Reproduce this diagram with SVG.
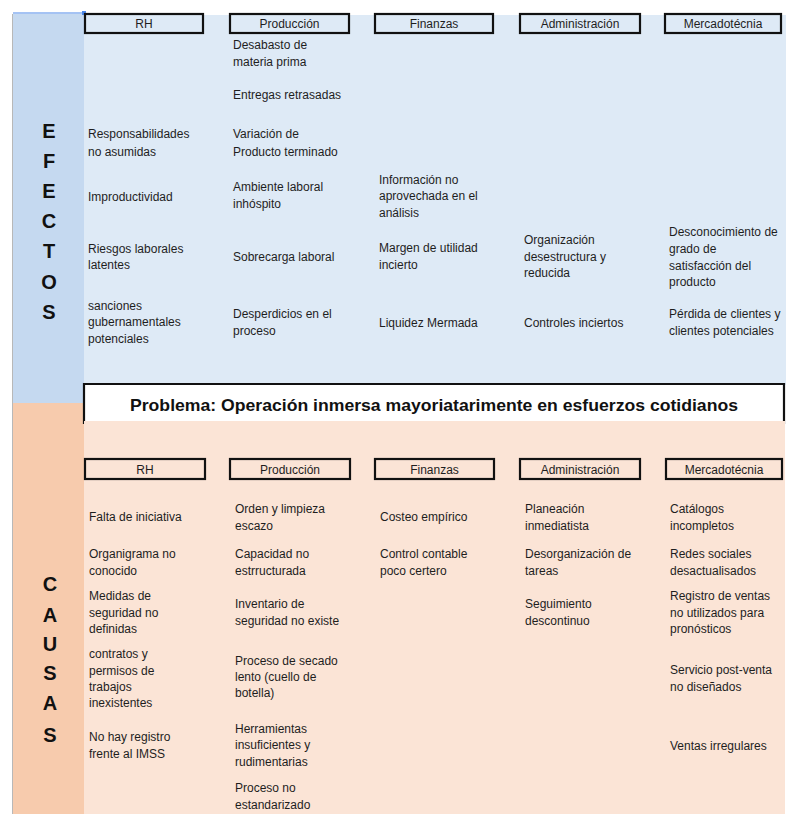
<svg xmlns="http://www.w3.org/2000/svg" width="788" height="814" viewBox="0 0 788 814">
<style>
  .t { font-family: "Liberation Sans", Arial, sans-serif; font-size: 12px; fill: #1e1e1e; }
  .h { font-family: "Liberation Sans", Arial, sans-serif; font-size: 12px; fill: #1e1e1e; text-anchor: middle; }
  .hb { fill: none; stroke: #111; stroke-width: 2.2; }
  .big { font-family: "Liberation Sans", Arial, sans-serif; font-size: 20px; font-weight: bold; fill: #111; text-anchor: middle; }
  .prob { font-family: "Liberation Sans", Arial, sans-serif; font-size: 17px; font-weight: bold; fill: #111; text-anchor: middle; }
</style>
<rect width="788" height="814" fill="#ffffff"/>
<!-- backgrounds -->
<g id="backgrounds">
  <rect x="84" y="15" width="702" height="370" fill="#deeaf6"/>
  <rect x="13" y="14" width="71" height="389" fill="#c5d9f0"/>
  <rect x="13" y="403" width="71" height="411" fill="#f7cbad"/>
  <rect x="84" y="421" width="701" height="393" fill="#fbe4d6"/>
  <line x1="12.5" y1="14" x2="12.5" y2="814" stroke="#b8b8b8" stroke-width="1"/>
  <line x1="13" y1="13" x2="84" y2="13" stroke="#4a86e8" stroke-width="1"/>
  <rect x="82" y="11" width="4" height="4" fill="#4a86e8"/>
</g>
<!-- problem -->
<g id="problema">
  <rect x="84" y="384" width="700" height="40" fill="#ffffff"/>
  <path d="M84,424 V384 H784 V424" fill="none" stroke="#111" stroke-width="2.2"/>
  <rect x="84" y="421" width="701" height="5" fill="#fbe4d6"/>
  <text class="prob" x="434" y="411" textLength="608" lengthAdjust="spacingAndGlyphs">Problema: Operación inmersa mayoriatarimente en esfuerzos cotidianos</text>
</g>
<!-- side labels -->
<g id="efectos-label">
  <text class="big" x="49" y="138">E</text>
  <text class="big" x="49" y="168">F</text>
  <text class="big" x="49" y="198">E</text>
  <text class="big" x="49" y="228">C</text>
  <text class="big" x="49" y="258">T</text>
  <text class="big" x="49" y="289">O</text>
  <text class="big" x="49" y="319">S</text>
</g>
<g id="causas-label">
  <text class="big" x="50" y="591">C</text>
  <text class="big" x="50" y="622">A</text>
  <text class="big" x="50" y="651">U</text>
  <text class="big" x="50" y="680">S</text>
  <text class="big" x="50" y="710">A</text>
  <text class="big" x="50" y="742">S</text>
</g>
<!-- effects headers -->
<g id="ef-rh"><rect class="hb" x="85" y="14" width="118" height="19"/><text class="h" x="144" y="28">RH</text></g>
<g id="ef-produccion"><rect class="hb" x="230" y="14" width="119" height="19"/><text class="h" x="289.5" y="28">Producción</text></g>
<g id="ef-finanzas"><rect class="hb" x="375" y="14" width="118" height="19"/><text class="h" x="434" y="28">Finanzas</text></g>
<g id="ef-administracion"><rect class="hb" x="520" y="14" width="120" height="19"/><text class="h" x="580" y="28">Administración</text></g>
<g id="ef-mercadotecnia"><rect class="hb" x="665" y="14" width="116" height="19"/><text class="h" x="723" y="28">Mercadotécnia</text></g>
<!-- effects items -->
<g id="ef-rh-items">
  <text class="t" x="88" y="138">Responsabilidades</text>
  <text class="t" x="88" y="156">no asumidas</text>
  <text class="t" x="88" y="201">Improductividad</text>
  <text class="t" x="88" y="253">Riesgos laborales</text>
  <text class="t" x="88" y="269">latentes</text>
  <text class="t" x="88" y="310">sanciones</text>
  <text class="t" x="88" y="326">gubernamentales</text>
  <text class="t" x="88" y="343">potenciales</text>
</g>
<g id="ef-produccion-items">
  <text class="t" x="233" y="49">Desabasto de</text>
  <text class="t" x="233" y="66">materia prima</text>
  <text class="t" x="233" y="99">Entregas retrasadas</text>
  <text class="t" x="233" y="138">Variación de</text>
  <text class="t" x="233" y="156">Producto terminado</text>
  <text class="t" x="233" y="191">Ambiente laboral</text>
  <text class="t" x="233" y="208">inhóspito</text>
  <text class="t" x="233" y="261">Sobrecarga laboral</text>
  <text class="t" x="233" y="318">Desperdicios en el</text>
  <text class="t" x="233" y="335">proceso</text>
</g>
<g id="ef-finanzas-items">
  <text class="t" x="379" y="184">Información no</text>
  <text class="t" x="379" y="200">aprovechada en el</text>
  <text class="t" x="379" y="217">análisis</text>
  <text class="t" x="379" y="252">Margen de utilidad</text>
  <text class="t" x="379" y="269">incierto</text>
  <text class="t" x="379" y="327">Liquidez Mermada</text>
</g>
<g id="ef-administracion-items">
  <text class="t" x="524" y="244">Organización</text>
  <text class="t" x="524" y="261">desestructura y</text>
  <text class="t" x="524" y="277">reducida</text>
  <text class="t" x="524" y="327">Controles inciertos</text>
</g>
<g id="ef-mercadotecnia-items">
  <text class="t" x="669" y="236">Desconocimiento de</text>
  <text class="t" x="669" y="253">grado de</text>
  <text class="t" x="669" y="270">satisfacción del</text>
  <text class="t" x="669" y="286">producto</text>
  <text class="t" x="669" y="318">Pérdida de clientes y</text>
  <text class="t" x="669" y="335">clientes potenciales</text>
</g>
<!-- causes headers -->
<g id="ca-rh"><rect class="hb" x="85" y="459" width="120" height="20"/><text class="h" x="145" y="474">RH</text></g>
<g id="ca-produccion"><rect class="hb" x="230" y="459" width="120" height="20"/><text class="h" x="290" y="474">Producción</text></g>
<g id="ca-finanzas"><rect class="hb" x="375" y="459" width="119" height="20"/><text class="h" x="434.5" y="474">Finanzas</text></g>
<g id="ca-administracion"><rect class="hb" x="520" y="459" width="120" height="20"/><text class="h" x="580" y="474">Administración</text></g>
<g id="ca-mercadotecnia"><rect class="hb" x="666" y="459" width="116" height="20"/><text class="h" x="724" y="474">Mercadotécnia</text></g>
<!-- causes items -->
<g id="ca-rh-items">
  <text class="t" x="89" y="521">Falta de iniciativa</text>
  <text class="t" x="89" y="558">Organigrama no</text>
  <text class="t" x="89" y="575">conocido</text>
  <text class="t" x="89" y="600">Medidas de</text>
  <text class="t" x="89" y="617">seguridad no</text>
  <text class="t" x="89" y="633">definidas</text>
  <text class="t" x="89" y="658">contratos y</text>
  <text class="t" x="89" y="675">permisos de</text>
  <text class="t" x="89" y="691">trabajos</text>
  <text class="t" x="89" y="707">inexistentes</text>
  <text class="t" x="89" y="741">No hay registro</text>
  <text class="t" x="89" y="758">frente al IMSS</text>
</g>
<g id="ca-produccion-items">
  <text class="t" x="235" y="513">Orden y limpieza</text>
  <text class="t" x="235" y="530">escazo</text>
  <text class="t" x="235" y="558">Capacidad no</text>
  <text class="t" x="235" y="575">estrructurada</text>
  <text class="t" x="235" y="608">Inventario de</text>
  <text class="t" x="235" y="625">seguridad no existe</text>
  <text class="t" x="235" y="665">Proceso de secado</text>
  <text class="t" x="235" y="681">lento (cuello de</text>
  <text class="t" x="235" y="697">botella)</text>
  <text class="t" x="235" y="733">Herramientas</text>
  <text class="t" x="235" y="749">insuficientes y</text>
  <text class="t" x="235" y="766">rudimentarias</text>
  <text class="t" x="235" y="792">Proceso no</text>
  <text class="t" x="235" y="809">estandarizado</text>
</g>
<g id="ca-finanzas-items">
  <text class="t" x="380" y="521">Costeo empírico</text>
  <text class="t" x="380" y="558">Control contable</text>
  <text class="t" x="380" y="575">poco certero</text>
</g>
<g id="ca-administracion-items">
  <text class="t" x="525" y="513">Planeación</text>
  <text class="t" x="525" y="530">inmediatista</text>
  <text class="t" x="525" y="558">Desorganización de</text>
  <text class="t" x="525" y="575">tareas</text>
  <text class="t" x="525" y="608">Seguimiento</text>
  <text class="t" x="525" y="625">descontinuo</text>
</g>
<g id="ca-mercadotecnia-items">
  <text class="t" x="670" y="513">Catálogos</text>
  <text class="t" x="670" y="530">incompletos</text>
  <text class="t" x="670" y="558">Redes sociales</text>
  <text class="t" x="670" y="575">desactualisados</text>
  <text class="t" x="670" y="600">Registro de ventas</text>
  <text class="t" x="670" y="617">no utilizados para</text>
  <text class="t" x="670" y="633">pronósticos</text>
  <text class="t" x="670" y="674">Servicio post-venta</text>
  <text class="t" x="670" y="691">no diseñados</text>
  <text class="t" x="670" y="750">Ventas irregulares</text>
</g>
</svg>
